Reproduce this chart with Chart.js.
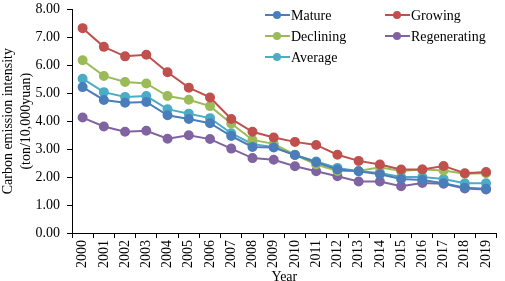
<!DOCTYPE html>
<html>
<head>
<meta charset="utf-8">
<script src="https://cdn.jsdelivr.net/npm/chart.js@4"></script>
<style>
  html, body { margin: 0; padding: 0; background: #fff; overflow: hidden; }
  /* 画布上移 6px，让 8.00 顶格 */
  #wrap { width: 505px; height: 287px; position: relative; top: -6px; }
</style>
</head>
<body>
<div id="wrap"><canvas id="c"></canvas></div>
<script>
// 数据
const years = ['2000','2001','2002','2003','2004','2005','2006','2007','2008','2009',
               '2010','2011','2012','2013','2014','2015','2016','2017','2018','2019'];
const mature = [5.22, 4.76, 4.66, 4.69, 4.21, 4.08, 3.93, 3.47, 3.08, 3.06, 2.79, 2.53, 2.27, 2.21, 2.10, 1.93, 1.90, 1.78, 1.62, 1.58];
const growing = [7.33, 6.66, 6.32, 6.38, 5.75, 5.20, 4.85, 4.08, 3.62, 3.42, 3.26, 3.15, 2.80, 2.58, 2.45, 2.27, 2.27, 2.40, 2.14, 2.18];
const declining = [6.18, 5.62, 5.40, 5.35, 4.90, 4.77, 4.54, 3.92, 3.33, 3.19, 2.80, 2.45, 2.22, 2.22, 2.35, 2.22, 2.27, 2.24, 2.12, 2.14];
const regenerating = [4.13, 3.81, 3.62, 3.66, 3.37, 3.50, 3.36, 3.02, 2.68, 2.62, 2.39, 2.21, 2.03, 1.84, 1.84, 1.67, 1.79, 1.76, 1.59, 1.56];
const average = [5.52, 5.04, 4.87, 4.90, 4.43, 4.27, 4.11, 3.57, 3.18, 3.08, 2.79, 2.56, 2.33, 2.21, 2.15, 2.00, 2.00, 1.93, 1.78, 1.78];

const FONT = '"Liberation Serif", "Times New Roman", serif';

function series(label, data, color) {
  return {
    label: label,
    data: data,
    borderColor: color,
    backgroundColor: color,
    pointBackgroundColor: color,
    pointBorderColor: color,
    borderWidth: 2,
    pointRadius: 4,
    tension: 0
  };
}

// 图例：两列，画在绘图区右上角（坐标相对画布，画布上移了 6px）
const legendPlugin = {
  id: 'cornerLegend',
  afterDraw(chart) {
    const ctx = chart.ctx;
    const order = [[0, 0], [1, 0], [2, 1], [3, 1], [4, 2]]; // [dataset, row]
    const cols = [265, 385];
    const rows = [21, 42, 63];
    ctx.save();
    ctx.font = '14px ' + FONT;
    ctx.textBaseline = 'middle';
    order.forEach(function(o, i) {
      const ds = chart.data.datasets[o[0]];
      const x = cols[i === 4 ? 0 : i % 2];
      const y = rows[o[1]];
      ctx.strokeStyle = ds.borderColor;
      ctx.lineWidth = 2;
      ctx.beginPath();
      ctx.moveTo(x, y);
      ctx.lineTo(x + 25, y);
      ctx.stroke();
      ctx.fillStyle = ds.borderColor;
      ctx.beginPath();
      ctx.arc(x + 12, y, 4, 0, Math.PI * 2);
      ctx.fill();
      ctx.fillStyle = '#000';
      ctx.fillText(ds.label, x + 26, y + 1);
    });
    ctx.restore();
  }
};

new Chart(document.getElementById('c'), {
  type: 'line',
  data: {
    labels: years,
    datasets: [
      series('Mature', mature, '#4A7EBB'),
      series('Growing', growing, '#C0504D'),
      series('Declining', declining, '#9BBB59'),
      series('Regenerating', regenerating, '#8064A2'),
      series('Average', average, '#4BACC6')
    ]
  },
  options: {
    responsive: true,
    maintainAspectRatio: false,
    animation: false,
    layout: { padding: { top: 0, right: 2, bottom: -3, left: 0 } },
    plugins: {
      legend: { display: false },
      tooltip: { enabled: false }
    },
    scales: {
      x: {
        offset: true,
        grid: { offset: true, drawOnChartArea: false, drawTicks: true, tickLength: 5, color: '#000' },
        border: { color: '#000', width: 1 },
        ticks: {
          color: '#000', font: { family: FONT, size: 14 },
          minRotation: 90, maxRotation: 90, padding: 2, autoSkip: false
        },
        title: {
          display: true, text: 'Year', color: '#000',
          font: { family: FONT, size: 14, lineHeight: 1 },
          padding: { top: 0, bottom: 0 }
        }
      },
      y: {
        min: 0, max: 8,
        afterFit: function(scale) { scale.width = 72; },
        grid: { drawOnChartArea: false, drawTicks: true, tickLength: 5, color: '#000' },
        border: { color: '#000', width: 1 },
        ticks: {
          stepSize: 1, color: '#000', font: { family: FONT, size: 14 }, padding: 7,
          callback: function(v) { return v.toFixed(2); }
        },
        title: {
          display: true, text: ['Carbon emission intensity', '(ton/10,000yuan)'], color: '#000',
          font: { family: FONT, size: 14, lineHeight: 1.25 },
          padding: { top: 0, bottom: 4 }
        }
      }
    }
  },
  plugins: [legendPlugin]
});
</script>
</body>
</html>
